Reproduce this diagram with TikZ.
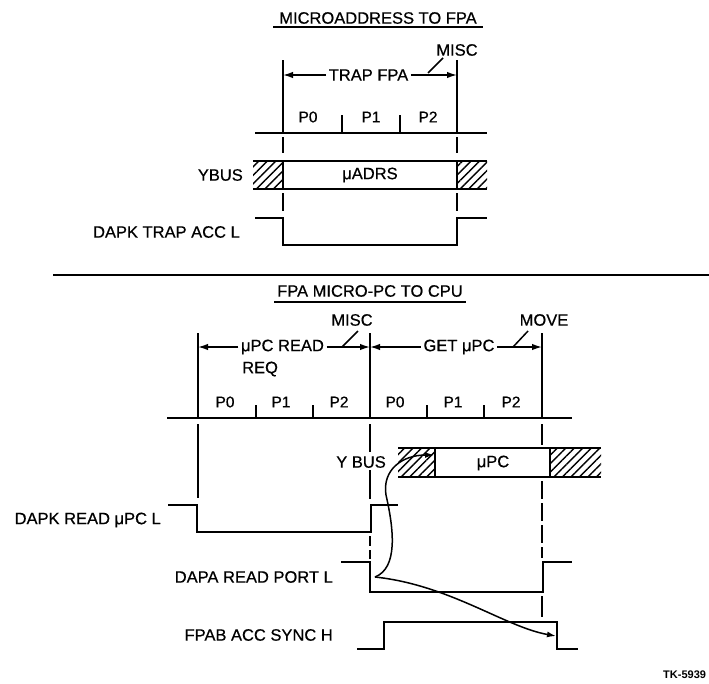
\documentclass[tikz,border=0pt]{standalone}
\usepackage{fontspec}
\setmainfont{Liberation Sans}[UprightFeatures={FakeBold=0.6}]
\usetikzlibrary{patterns.meta,arrows.meta}
\tikzset{
  sig/.style={line width=2.8pt, line join=miter},
  clk/.style={line width=2.3pt},
  vln/.style={line width=1.5pt},
  dln/.style={line width=1.5pt, dash pattern=on 18pt off 4pt},
  busln/.style={line width=2.5pt},
  hatchbox/.style={pattern={Lines[angle=45,distance=6pt,line width=1.4pt]}},
  dimarrow/.style={line width=1.5pt, -{Latex[length=10pt,width=6.5pt]}},
  causearrow/.style={line width=1.5pt, -{Latex[length=9pt,width=6pt]}},
  lbl/.style={inner sep=0pt, font=\fontsize{16.5}{18}\selectfont},
  dlbl/.style={inner sep=2.5pt, font=\fontsize{16.5}{18}\selectfont},
  plbl/.style={inner sep=0pt, font=\fontsize{15.5}{17}\selectfont},
  ttl/.style={inner sep=0pt, font=\fontsize{16.5}{18}\selectfont},
}
\begin{document}
\begin{tikzpicture}[x=1pt,y=-1pt]
\useasboundingbox (0,0) rectangle (709,683);

% ================= TOP SECTION =================
\node[ttl] (title1) at (378,18) {MICROADDRESS TO FPA};
\draw[line width=1.3pt] (273,27) -- (483,27);

\node[lbl] (misc1) at (457,50) {MISC};
\coordinate (l1a) at (428,73);
\coordinate (l1b) at (443,58);
\draw[vln] (l1a) -- (l1b);

\coordinate (tL) at (283,60);
\coordinate (tR) at (457,60);
\coordinate (tLc) at (283,133);
\coordinate (tRc) at (457,133);
\draw[vln] (tL) -- (tLc);
\draw[vln] (tR) -- (tRc);

\node[dlbl] (trap) at (368.5,75) {TRAP FPA};
\draw[dimarrow] (trap.west) -- (tL |- trap.west);
\draw[dimarrow] (trap.east) -- (tR |- trap.east);

\coordinate (c1s) at (255,133);
\coordinate (c1e) at (487,133);
\draw[clk] (c1s) -- (c1e);
\draw[vln] (342,115) -- (342,133);
\draw[vln] (400,115) -- (400,133);
\node[plbl] (tp0) at (308,117) {P0};
\node[plbl] (tp1) at (371,117) {P1};
\node[plbl] (tp2) at (428,117) {P2};

\draw[vln] (283,137) -- (283,153);
\draw[vln] (457,137) -- (457,153);
\draw[vln] (283,193) -- (283,211);
\draw[vln] (457,193) -- (457,211);

% YBUS
\fill[hatchbox] (253,161) rectangle (283,189);
\fill[hatchbox] (457,161) rectangle (487,189);
\draw[busln] (253,161) -- (487,161);
\draw[busln] (253,189) -- (487,189);
\draw[vln] (283,161) -- (283,189);
\draw[vln] (457,161) -- (457,189);
\node[lbl, anchor=east] (ybus1) at (243,175) {YBUS};
\node[lbl] (uadrs) at (370,175) {μADRS};

% DAPK TRAP ACC L
\draw[sig] (255,218) -- (283,218) -- (283,245) -- (457,245) -- (457,218) -- (487,218);
\node[lbl, anchor=east] (dapk1) at (240,232) {DAPK TRAP ACC L};

% separator
\draw[line width=1.8pt] (53,275) -- (709,275);

% ================= BOTTOM SECTION =================
\node[ttl] (title2) at (370,291) {FPA MICRO-PC TO CPU};
\draw[line width=1.3pt] (274,302) -- (466,302);

\node[lbl] (misc2) at (352,320) {MISC};
\node[lbl] (move) at (544,320) {MOVE};
\draw[vln] (342,347) -- (358,331);
\draw[vln] (513,347) -- (528,331);

\coordinate (bA) at (198,333);
\coordinate (bB) at (370,333);
\coordinate (bC) at (542,333);
\draw[vln] (bA) -- (198,418);
\draw[vln] (bB) -- (370,418);
\draw[vln] (bC) -- (542,418);

\node[dlbl] (upcread) at (282.5,347) {μPC READ};
\node[lbl, anchor=west] (req) at (242,369) {REQ};
\node[dlbl] (getupc) at (459,347) {GET μPC};
\draw[dimarrow] (upcread.west) -- (bA |- upcread.west);
\draw[dimarrow] (upcread.east) -- (bB |- upcread.east);
\draw[dimarrow] (getupc.west) -- (bB |- getupc.west);
\draw[dimarrow] (getupc.east) -- (bC |- getupc.east);

\draw[clk] (167,418) -- (572,418);
\foreach \tx in {256,313,427,484} \draw[vln] (\tx,405) -- (\tx,418);
\node[plbl] (bp0a) at (225,402) {P0};
\node[plbl] (bp1a) at (281,402) {P1};
\node[plbl] (bp2a) at (339,402) {P2};
\node[plbl] (bp0b) at (395,402) {P0};
\node[plbl] (bp1b) at (453,402) {P1};
\node[plbl] (bp2b) at (511,402) {P2};

% vertical continuations
\draw[vln] (198,424) -- (198,498);
\draw[vln] (370,424) -- (370,452);
\draw[vln] (370,470) -- (370,499);
\draw[vln] (542,424) -- (542,445);
\draw[dln] (542,481) -- (542,558);
\draw[vln] (370,536) -- (370,546);
\draw[vln] (370,550) -- (370,559);
\draw[vln] (542,596) -- (542,617);

% Y BUS
\node[lbl, anchor=east] (ybus2) at (386,462) {Y BUS};
\fill[hatchbox] (398,448) rectangle (435,477);
\fill[hatchbox] (550,448) rectangle (601,477);
\draw[busln] (398,448) -- (601,448);
\draw[busln] (398,477) -- (601,477);
\draw[vln] (435,448) -- (435,477);
\draw[vln] (550,448) -- (550,477);
\node[lbl] (upc) at (493,463) {μPC};

% signals
\draw[sig] (168,505) -- (197,505) -- (197,532) -- (371,532) -- (371,505) -- (398,505);
\node[lbl, anchor=east] (dapk2) at (161,520) {DAPK READ μPC L};

\draw[sig] (341,562) -- (370,562) -- (370,592) -- (543,592) -- (543,562) -- (572,562);
\node[lbl, anchor=east] (dapa) at (333,577) {DAPA READ PORT L};

\draw[sig] (357,649) -- (384,649) -- (384,622) -- (557,622) -- (557,649) -- (578,649);
\node[lbl, anchor=east] (fpab) at (333,635) {FPAB ACC SYNC H};

% cause arrows
\coordinate (src) at (375,577);
\coordinate (busarr) at (434,455);
\coordinate (fpabarr) at (556,636);
\draw[causearrow] (src) .. controls (398,568) and (394,530) .. (386,495)
   .. controls (382,470) and (402,455) .. (busarr);
\draw[causearrow] (src) .. controls (450,585) and (505,627) .. (fpabarr);

% figure id
\node[inner sep=0pt, anchor=west, font=\fontsize{11}{13}\selectfont\bfseries] (tk) at (663,675) {TK-5939};
\end{tikzpicture}
\end{document}
